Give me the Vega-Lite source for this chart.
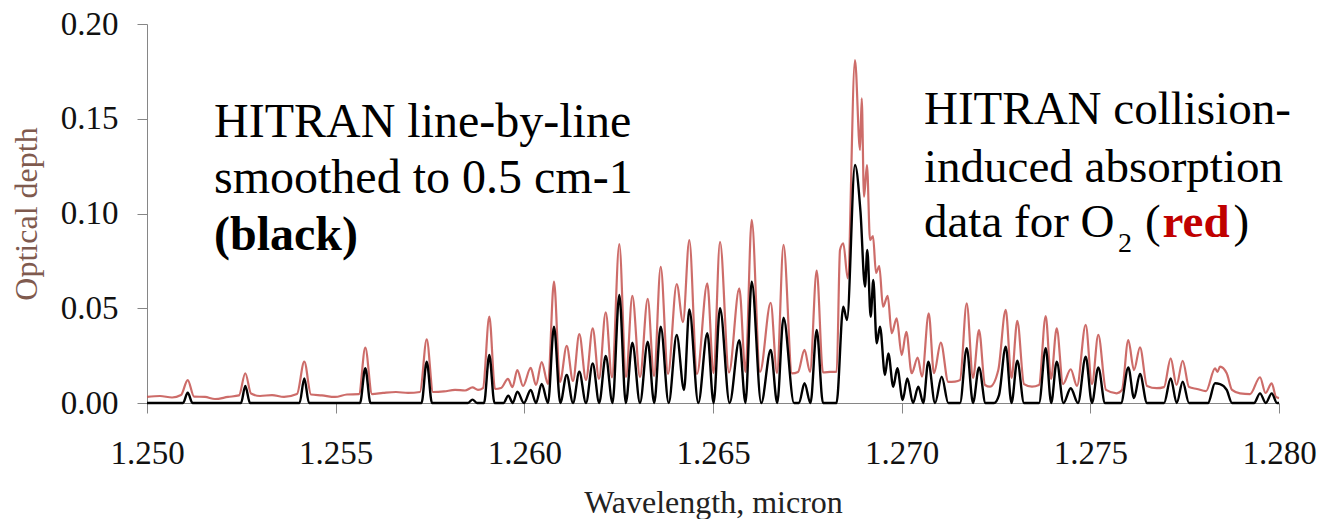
{
"$schema": "https://vega.github.io/schema/vega-lite/v6.json",
"width": 1132, "height": 379,
"autosize": {"type": "none"},
"padding": {"left": 147, "top": 24, "right": 43, "bottom": 116},
"background": "white",
"config": {"view": {"stroke": null}, "font": "Liberation Serif"},
"datasets": {
"cia": [
{"wl":1.250000,"od":0.0032},{"wl":1.250345,"od":0.0037},{"wl":1.250663,"od":0.0029},{"wl":1.250901,"od":0.0042},{"wl":1.251079,"od":0.0121},{"wl":1.251246,"od":0.0034},{"wl":1.251537,"od":0.0032},{"wl":1.251802,"od":0.0021},{"wl":1.252147,"od":0.0032},{"wl":1.252438,"od":0.0040},{"wl":1.252605,"od":0.0157},{"wl":1.252756,"od":0.0050},{"wl":1.252995,"od":0.0037},{"wl":1.253313,"od":0.0042},{"wl":1.253631,"od":0.0032},{"wl":1.253975,"od":0.0047},{"wl":1.254169,"od":0.0218},{"wl":1.254346,"od":0.0045},{"wl":1.254638,"od":0.0040},{"wl":1.254982,"od":0.0032},{"wl":1.255300,"od":0.0045},{"wl":1.255618,"od":0.0047},{"wl":1.255785,"od":0.0292},{"wl":1.255963,"od":0.0047},{"wl":1.256254,"od":0.0053},{"wl":1.256599,"od":0.0058},{"wl":1.256917,"od":0.0053},{"wl":1.257235,"od":0.0058},{"wl":1.257413,"od":0.0336},{"wl":1.257580,"od":0.0058},{"wl":1.257871,"od":0.0061},{"wl":1.258163,"od":0.0069},{"wl":1.258428,"od":0.0066},{"wl":1.258626,"od":0.0082},{"wl":1.258772,"od":0.0069},{"wl":1.258905,"od":0.0079},{"wl":1.259072,"od":0.0456},{"wl":1.259223,"od":0.0074},{"wl":1.259382,"od":0.0079},{"wl":1.259567,"od":0.0127},{"wl":1.259686,"od":0.0084},{"wl":1.259814,"od":0.0174},{"wl":1.259965,"od":0.0090},{"wl":1.260169,"od":0.0185},{"wl":1.260309,"od":0.0095},{"wl":1.260460,"od":0.0216},{"wl":1.260627,"od":0.0100},{"wl":1.260786,"od":0.0640},{"wl":1.260945,"od":0.0111},{"wl":1.261123,"od":0.0301},{"wl":1.261290,"od":0.0116},{"wl":1.261457,"od":0.0363},{"wl":1.261634,"od":0.0121},{"wl":1.261812,"od":0.0394},{"wl":1.261979,"od":0.0127},{"wl":1.262157,"od":0.0479},{"wl":1.262323,"od":0.0135},{"wl":1.262517,"od":0.0839},{"wl":1.262694,"od":0.0137},{"wl":1.262862,"od":0.0565},{"wl":1.263065,"od":0.0137},{"wl":1.263270,"od":0.0549},{"wl":1.263437,"od":0.0142},{"wl":1.263614,"od":0.0719},{"wl":1.263808,"od":0.0153},{"wl":1.264038,"od":0.0628},{"wl":1.264205,"od":0.0427},{"wl":1.264372,"od":0.0860},{"wl":1.264576,"od":0.0153},{"wl":1.264849,"od":0.0632},{"wl":1.265013,"od":0.0158},{"wl":1.265186,"od":0.0851},{"wl":1.265424,"od":0.0161},{"wl":1.265697,"od":0.0605},{"wl":1.265861,"od":0.0164},{"wl":1.266026,"od":0.0966},{"wl":1.266246,"od":0.0164},{"wl":1.266529,"od":0.0529},{"wl":1.266696,"od":0.0158},{"wl":1.266869,"od":0.0834},{"wl":1.267094,"od":0.0156},{"wl":1.267253,"od":0.0164},{"wl":1.267425,"od":0.0280},{"wl":1.267571,"od":0.0164},{"wl":1.267748,"od":0.0699},{"wl":1.267915,"od":0.0161},{"wl":1.268101,"od":0.0164},{"wl":1.268278,"od":0.0166},{"wl":1.268366,"od":0.0807},{"wl":1.268453,"od":0.0843},{"wl":1.268570,"od":0.0658},{"wl":1.268763,"od":0.1810},{"wl":1.268896,"od":0.1335},{"wl":1.268941,"od":0.1608},{"wl":1.269002,"od":0.1089},{"wl":1.269081,"od":0.1256},{"wl":1.269161,"od":0.0860},{"wl":1.269240,"od":0.0881},{"wl":1.269320,"od":0.0686},{"wl":1.269407,"od":0.0723},{"wl":1.269505,"od":0.0508},{"wl":1.269630,"od":0.0565},{"wl":1.269736,"od":0.0368},{"wl":1.269868,"od":0.0447},{"wl":1.270001,"od":0.0253},{"wl":1.270123,"od":0.0376},{"wl":1.270266,"od":0.0157},{"wl":1.270425,"od":0.0240},{"wl":1.270539,"od":0.0139},{"wl":1.270717,"od":0.0473},{"wl":1.270857,"od":0.0157},{"wl":1.271037,"od":0.0319},{"wl":1.271236,"od":0.0111},{"wl":1.271414,"od":0.0113},{"wl":1.271546,"od":0.0121},{"wl":1.271724,"od":0.0526},{"wl":1.271891,"od":0.0132},{"wl":1.272050,"od":0.0385},{"wl":1.272209,"od":0.0095},{"wl":1.272341,"od":0.0086},{"wl":1.272561,"od":0.0174},{"wl":1.272757,"od":0.0491},{"wl":1.272911,"od":0.0132},{"wl":1.273065,"od":0.0433},{"wl":1.273242,"od":0.0100},{"wl":1.273454,"od":0.0086},{"wl":1.273640,"od":0.0095},{"wl":1.273817,"od":0.0459},{"wl":1.273958,"od":0.0127},{"wl":1.274109,"od":0.0394},{"wl":1.274276,"od":0.0100},{"wl":1.274480,"od":0.0178},{"wl":1.274647,"od":0.0090},{"wl":1.274877,"od":0.0412},{"wl":1.275044,"od":0.0100},{"wl":1.275211,"od":0.0359},{"wl":1.275415,"od":0.0069},{"wl":1.275699,"od":0.0051},{"wl":1.275839,"od":0.0069},{"wl":1.276006,"od":0.0332},{"wl":1.276157,"od":0.0174},{"wl":1.276316,"od":0.0294},{"wl":1.276502,"od":0.0090},{"wl":1.276759,"od":0.0078},{"wl":1.276953,"od":0.0084},{"wl":1.277130,"od":0.0236},{"wl":1.277284,"od":0.0095},{"wl":1.277448,"od":0.0223},{"wl":1.277615,"od":0.0084},{"wl":1.277827,"od":0.0074},{"wl":1.278066,"od":0.0063},{"wl":1.278304,"od":0.0183},{"wl":1.278370,"od":0.0164},{"wl":1.278437,"od":0.0192},{"wl":1.278614,"od":0.0157},{"wl":1.278755,"od":0.0069},{"wl":1.278967,"od":0.0051},{"wl":1.279232,"od":0.0047},{"wl":1.279497,"od":0.0136},{"wl":1.279642,"od":0.0053},{"wl":1.279807,"od":0.0104},{"wl":1.279921,"od":0.0032},{"wl":1.280000,"od":0.0026}
],
"lbl": [
{"wl":1.250000,"od":0},{"wl":1.250954,"od":0},{"wl":1.251079,"od":0.0054},{"wl":1.251206,"od":0},{"wl":1.252491,"od":0},{"wl":1.252605,"od":0.0090},{"wl":1.252730,"od":0},{"wl":1.254042,"od":0},{"wl":1.254169,"od":0.0130},{"wl":1.254293,"od":0},{"wl":1.255645,"od":0},{"wl":1.255785,"od":0.0183},{"wl":1.255923,"od":0},{"wl":1.257275,"od":0},{"wl":1.257413,"od":0.0218},{"wl":1.257553,"od":0},{"wl":1.258507,"od":0},{"wl":1.258626,"od":0.0018},{"wl":1.258746,"od":0},{"wl":1.258931,"od":0},{"wl":1.259072,"od":0.0253},{"wl":1.259209,"od":0},{"wl":1.259448,"od":0},{"wl":1.259575,"od":0.0039},{"wl":1.259694,"od":0},{"wl":1.259814,"od":0.0060},{"wl":1.259991,"od":0},{"wl":1.260169,"od":0.0069},{"wl":1.260309,"od":0},{"wl":1.260460,"od":0.0100},{"wl":1.260627,"od":0},{"wl":1.260786,"od":0.0403},{"wl":1.260953,"od":0},{"wl":1.261123,"od":0.0148},{"wl":1.261290,"od":0},{"wl":1.261457,"od":0.0165},{"wl":1.261634,"od":0},{"wl":1.261812,"od":0.0209},{"wl":1.261984,"od":0},{"wl":1.262157,"od":0.0248},{"wl":1.262337,"od":0},{"wl":1.262517,"od":0.0570},{"wl":1.262689,"od":0},{"wl":1.262862,"od":0.0318},{"wl":1.263065,"od":0},{"wl":1.263270,"od":0.0323},{"wl":1.263442,"od":0},{"wl":1.263614,"od":0.0403},{"wl":1.263826,"od":0},{"wl":1.264038,"od":0.0359},{"wl":1.264232,"od":0.0069},{"wl":1.264372,"od":0.0494},{"wl":1.264611,"od":0},{"wl":1.264849,"od":0.0368},{"wl":1.265016,"od":0},{"wl":1.265186,"od":0.0500},{"wl":1.265440,"od":0},{"wl":1.265697,"od":0.0332},{"wl":1.265861,"od":0},{"wl":1.266026,"od":0.0640},{"wl":1.266278,"od":0},{"wl":1.266529,"od":0.0280},{"wl":1.266702,"od":0},{"wl":1.266869,"od":0.0450},{"wl":1.267147,"od":0},{"wl":1.267279,"od":0},{"wl":1.267425,"od":0.0104},{"wl":1.267584,"od":0},{"wl":1.267748,"od":0.0385},{"wl":1.267915,"od":0},{"wl":1.268273,"od":0},{"wl":1.268453,"od":0.0508},{"wl":1.268551,"od":0.0438},{"wl":1.268763,"od":0.1256},{"wl":1.268909,"od":0.1008},{"wl":1.269028,"od":0.0614},{"wl":1.269089,"od":0.0807},{"wl":1.269179,"od":0.0455},{"wl":1.269248,"od":0.0649},{"wl":1.269338,"od":0.0315},{"wl":1.269426,"od":0.0403},{"wl":1.269558,"od":0.0148},{"wl":1.269646,"od":0.0262},{"wl":1.269778,"od":0.0086},{"wl":1.269884,"od":0.0183},{"wl":1.270028,"od":0.0016},{"wl":1.270149,"od":0.0130},{"wl":1.270301,"od":0},{"wl":1.270441,"od":0.0086},{"wl":1.270573,"od":0},{"wl":1.270706,"od":0.0218},{"wl":1.270884,"od":0},{"wl":1.271061,"od":0.0139},{"wl":1.271236,"od":0},{"wl":1.271546,"od":0},{"wl":1.271724,"od":0.0289},{"wl":1.271891,"od":0},{"wl":1.272050,"od":0.0188},{"wl":1.272222,"od":0},{"wl":1.272447,"od":0},{"wl":1.272580,"od":0.0042},{"wl":1.272757,"od":0.0297},{"wl":1.272911,"od":0},{"wl":1.273065,"od":0.0223},{"wl":1.273242,"od":0},{"wl":1.273640,"od":0},{"wl":1.273817,"od":0.0289},{"wl":1.273963,"od":0},{"wl":1.274109,"od":0.0218},{"wl":1.274289,"od":0},{"wl":1.274480,"od":0.0078},{"wl":1.274673,"od":0},{"wl":1.274877,"od":0.0244},{"wl":1.275044,"od":0},{"wl":1.275211,"od":0.0188},{"wl":1.275389,"od":0},{"wl":1.275813,"od":0},{"wl":1.276006,"od":0.0188},{"wl":1.276157,"od":0.0026},{"wl":1.276316,"od":0.0153},{"wl":1.276502,"od":0},{"wl":1.276953,"od":0},{"wl":1.277130,"od":0.0130},{"wl":1.277289,"od":0},{"wl":1.277448,"od":0.0112},{"wl":1.277615,"od":0},{"wl":1.278119,"od":0},{"wl":1.278304,"od":0.0104},{"wl":1.278437,"od":0.0100},{"wl":1.278614,"od":0.0069},{"wl":1.278755,"od":0},{"wl":1.279338,"od":0},{"wl":1.279497,"od":0.0051},{"wl":1.279650,"od":0},{"wl":1.279807,"od":0.0051},{"wl":1.279947,"od":0},{"wl":1.280000,"od":0}
],
"note": [{}]
},
"layer": [
{"data": {"name": "cia"},
 "mark": {"type": "line", "color": "#c4524f", "strokeWidth": 2.2, "opacity": 0.85, "interpolate": "monotone"},
 "encoding": {
  "x": {"field": "wl", "type": "quantitative", "scale": {"domain": [1.25, 1.28], "nice": false, "zero": false},
        "axis": {"title": "Wavelength, micron", "values": [1.25, 1.255, 1.26, 1.265, 1.27, 1.275, 1.28], "format": ".3f", "grid": false,
                 "domainColor": "#868686", "tickColor": "#868686", "tickSize": 10, "labelFlush": false, "labelOverlap": false,
                 "labelFont": "Liberation Serif", "labelFontSize": 33, "labelColor": "#111", "labelPadding": 24,
                 "titleFont": "Liberation Serif", "titleFontSize": 32, "titleFontWeight": "normal", "titleColor": "#222", "titlePadding": 17}},
  "y": {"field": "od", "type": "quantitative", "scale": {"domain": [0, 0.2], "nice": false},
        "axis": {"title": "Optical depth", "values": [0, 0.05, 0.1, 0.15, 0.2], "format": ".2f", "grid": false,
                 "domainColor": "#868686", "tickColor": "#868686", "tickSize": 10, "labelFlush": false, "labelOverlap": false,
                 "labelFont": "Liberation Serif", "labelFontSize": 33, "labelColor": "#111", "labelPadding": 19,
                 "titleFont": "Liberation Serif", "titleFontSize": 32, "titleFontWeight": "normal", "titleColor": "#7f5a4e", "titlePadding": 17}}
 }},
{"data": {"name": "lbl"},
 "mark": {"type": "line", "color": "#000000", "strokeWidth": 2.4, "interpolate": "monotone"},
 "encoding": {"x": {"field": "wl", "type": "quantitative"}, "y": {"field": "od", "type": "quantitative"}}},
{"data": {"name": "note"},
 "mark": {"type": "text", "text": "HITRAN line-by-line", "align": "left", "baseline": "alphabetic", "font": "Liberation Serif", "fontSize": 48, "color": "#000"},
 "encoding": {"x": {"datum": 1.251776, "type": "quantitative"}, "y": {"datum": 0.14053, "type": "quantitative"}}},
{"data": {"name": "note"},
 "mark": {"type": "text", "text": "smoothed to 0.5 cm-1", "align": "left", "baseline": "alphabetic", "font": "Liberation Serif", "fontSize": 48, "color": "#000"},
 "encoding": {"x": {"datum": 1.251776, "type": "quantitative"}, "y": {"datum": 0.11066, "type": "quantitative"}}},
{"data": {"name": "note"},
 "mark": {"type": "text", "text": "(black)", "align": "left", "baseline": "alphabetic", "font": "Liberation Serif", "fontSize": 48, "fontWeight": "bold", "color": "#000"},
 "encoding": {"x": {"datum": 1.251776, "type": "quantitative"}, "y": {"datum": 0.08074, "type": "quantitative"}}},
{"data": {"name": "note"},
 "mark": {"type": "text", "text": "HITRAN collision-", "align": "left", "baseline": "alphabetic", "font": "Liberation Serif", "fontSize": 47, "color": "#000"},
 "encoding": {"x": {"datum": 1.270592, "type": "quantitative"}, "y": {"datum": 0.14707, "type": "quantitative"}}},
{"data": {"name": "note"},
 "mark": {"type": "text", "text": "induced absorption", "align": "left", "baseline": "alphabetic", "font": "Liberation Serif", "fontSize": 47, "color": "#000"},
 "encoding": {"x": {"datum": 1.270592, "type": "quantitative"}, "y": {"datum": 0.11678, "type": "quantitative"}}},
{"data": {"name": "note"},
 "mark": {"type": "text", "text": "data for O", "align": "left", "baseline": "alphabetic", "font": "Liberation Serif", "fontSize": 47, "color": "#000"},
 "encoding": {"x": {"datum": 1.270592, "type": "quantitative"}, "y": {"datum": 0.08776, "type": "quantitative"}}},
{"data": {"name": "note"},
 "mark": {"type": "text", "text": "2", "align": "left", "baseline": "alphabetic", "font": "Liberation Serif", "fontSize": 28, "color": "#000"},
 "encoding": {"x": {"datum": 1.275733, "type": "quantitative"}, "y": {"datum": 0.07984, "type": "quantitative"}}},
{"data": {"name": "note"},
 "mark": {"type": "text", "text": "(", "align": "left", "baseline": "alphabetic", "font": "Liberation Serif", "fontSize": 47, "color": "#000"},
 "encoding": {"x": {"datum": 1.276449, "type": "quantitative"}, "y": {"datum": 0.08776, "type": "quantitative"}}},
{"data": {"name": "note"},
 "mark": {"type": "text", "text": "red", "align": "left", "baseline": "alphabetic", "font": "Liberation Serif", "fontSize": 47, "fontWeight": "bold", "color": "#c00000"},
 "encoding": {"x": {"datum": 1.276915, "type": "quantitative"}, "y": {"datum": 0.08776, "type": "quantitative"}}},
{"data": {"name": "note"},
 "mark": {"type": "text", "text": ")", "align": "left", "baseline": "alphabetic", "font": "Liberation Serif", "fontSize": 47, "color": "#000"},
 "encoding": {"x": {"datum": 1.278797, "type": "quantitative"}, "y": {"datum": 0.08776, "type": "quantitative"}}}
]
}
